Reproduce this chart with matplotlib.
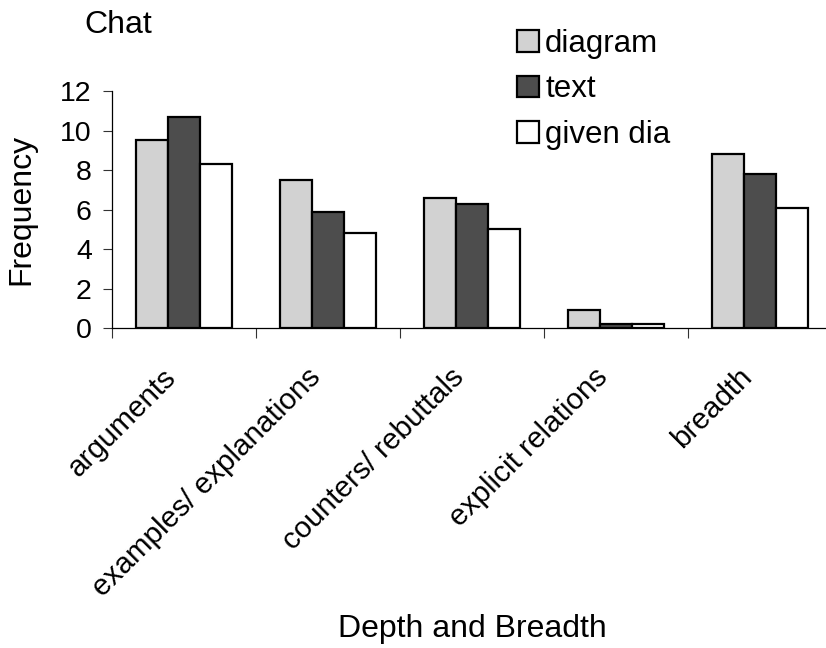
import numpy as np
import matplotlib.pyplot as plt
import matplotlib.transforms as mtransforms
from matplotlib.patches import Patch
from matplotlib.ticker import FixedLocator, NullFormatter

plt.rcParams['font.family'] = ['Liberation Sans', 'DejaVu Sans']

categories = ['arguments', 'examples/ explanations', 'counters/ rebuttals',
              'explicit relations', 'breadth']
series_names = ['diagram', 'text', 'given dia']
diagram = [9.5, 7.5, 6.6, 0.9, 8.8]
text = [10.7, 5.9, 6.3, 0.2, 7.8]
given_dia = [8.3, 4.8, 5.0, 0.2, 6.1]
colors = ['#d2d2d2', '#4d4d4d', '#ffffff']

fig = plt.figure(figsize=(8.26, 6.48), dpi=100)
ax = fig.add_axes([0.1356, 0.4938, 0.8717, 0.3657])

x = np.arange(len(categories))
w = 0.224
for i, (vals, c) in enumerate(zip([diagram, text, given_dia], colors)):
    ax.bar(x + (i - 1) * w, vals, w, color=c, edgecolor='black',
           linewidth=1.6, zorder=3)

ax.set_xlim(-0.5, len(categories) - 0.5)
ax.set_ylim(0, 12)
ax.set_yticks(range(0, 13, 2))
ax.tick_params(axis='y', labelsize=20.5, length=6.5, width=0.8, pad=8,
               colors='#333333', labelcolor='black')

# boundary ticks between groups, labels at group centres
ax.xaxis.set_major_locator(FixedLocator(np.arange(-0.5, len(categories), 1.0)))
ax.xaxis.set_major_formatter(NullFormatter())
ax.xaxis.set_minor_locator(FixedLocator(x))
ax.set_xticklabels(categories, minor=True, rotation=45, ha='right', va='top',
                   rotation_mode='anchor', fontsize=21.3)
ax.tick_params(axis='x', which='major', length=7.5, width=0.8, colors='#333333')
ax.tick_params(axis='x', which='minor', length=0, pad=25)
shift = mtransforms.ScaledTranslation(-0.22, 0, fig.dpi_scale_trans)
for lbl in ax.get_xticklabels(minor=True):
    lbl.set_transform(lbl.get_transform() + shift)

for s in ['top', 'right']:
    ax.spines[s].set_visible(False)
ax.spines['left'].set_linewidth(0.9)
ax.spines['bottom'].set_linewidth(0.9)

ax.set_ylabel('Frequency', fontsize=23)
ax.yaxis.set_label_coords(-0.105, 0.5)
fig.text(0.5715, 0.029, 'Depth and Breadth', fontsize=23, ha='center', va='center')
fig.text(0.143, 0.962, 'Chat', fontsize=23, ha='center', va='center')

handles = [Patch(facecolor=c, edgecolor='black', linewidth=1.6) for c in colors]
fig.legend(handles, series_names, loc='upper left', bbox_to_anchor=(0.626, 0.955),
           frameon=False, fontsize=22.5, handlelength=0.7, handleheight=0.7,
           handletextpad=0.2, labelspacing=0.49, borderaxespad=0, borderpad=0)

fig.savefig('out.png', dpi=100)
